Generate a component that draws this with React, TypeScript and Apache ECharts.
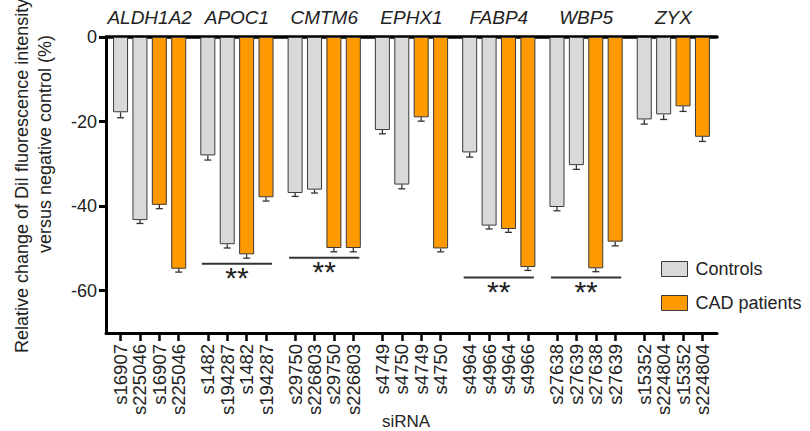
import React, { useEffect, useRef } from "react";
import * as echarts from "echarts";

const genes = ["ALDH1A2", "APOC1", "CMTM6", "EPHX1", "FABP4", "WBP5", "ZYX"];
const sirnaA = ["s16907", "s1482", "s29750", "s4749", "s4964", "s27638", "s15352"];
const sirnaB = ["s225046", "s194287", "s226803", "s4750", "s4966", "s27639", "s224804"];
// per gene: [siRNA A, siRNA B]
const controlValues = [-17.8, -43.3, -28.0, -49.0, -36.9, -36.1, -22.0, -34.9, -27.3, -44.6, -40.2, -30.3, -19.5, -18.3];
const controlErr = [1.3, 0.8, 1.1, 0.9, 0.8, 0.8, 0.9, 1.0, 1.1, 0.8, 0.9, 1.0, 1.1, 1.2];
const cadValues = [-39.7, -54.8, -51.4, -37.9, -49.9, -49.9, -19.0, -50.0, -45.4, -54.4, -54.7, -48.4, -16.4, -23.6];
const cadErr = [0.9, 0.8, 0.9, 0.9, 0.9, 0.9, 0.9, 0.8, 0.8, 0.8, 0.8, 1.0, 1.2, 1.1];
const yTicks = [0, -20, -40, -60];
// significance brackets: [gene index, level]
const sigGenes = [1, 2, 4, 5];
const sigLevels = [-53.6, -52.2, -56.9, -56.9];
const sigText = "**";

const SLOTS = 63;
const barIndex = (g: number, i: number) => 1 + g * 9 + 2 * i;

export default function App() {
  const ref = useRef<HTMLDivElement>(null);
  useEffect(() => {
    if (!ref.current) return;
    const chart = echarts.init(ref.current, null, { renderer: "svg" });

    const bottomCats: string[] = new Array(SLOTS).fill("");
    const topCats: string[] = new Array(SLOTS).fill("");
    const ctrl: any[] = new Array(SLOTS).fill("-");
    const cad: any[] = new Array(SLOTS).fill("-");
    const errData: number[][] = [];
    const barPos = new Set<number>();
    genes.forEach((gname, g) => {
      topCats[4 + g * 9] = gname;
      const ids = [sirnaA[g], sirnaB[g], sirnaA[g], sirnaB[g]];
      ids.forEach((id, i) => {
        bottomCats[barIndex(g, i)] = id;
        barPos.add(barIndex(g, i));
      });
      for (let j = 0; j < 2; j++) {
        const k1 = barIndex(g, j);
        ctrl[k1] = controlValues[g * 2 + j];
        errData.push([k1, controlValues[g * 2 + j], controlErr[g * 2 + j]]);
        const k2 = barIndex(g, 2 + j);
        cad[k2] = cadValues[g * 2 + j];
        errData.push([k2, cadValues[g * 2 + j], cadErr[g * 2 + j]]);
      }
    });
    const sigData = sigGenes.map((g, n) => [barIndex(g, 0), barIndex(g, 3), sigLevels[n]]);

    const font = "'Liberation Sans', Arial, sans-serif";
    const ctrlStyle = { color: "#d9d9d9", borderColor: "#3a3a3a", borderWidth: 1 };
    const cadStyle = { color: "#ff9900", borderColor: "#3a3a3a", borderWidth: 1 };

    chart.setOption({
      animation: false,
      textStyle: { fontFamily: font },
      grid: { left: 106, top: 37, right: 93, bottom: 98, containLabel: false },
      legend: {
        orient: "vertical",
        left: 656,
        top: 255,
        itemWidth: 26,
        itemHeight: 15,
        itemGap: 16,
        icon: "rect",
        textStyle: { fontSize: 18, color: "#222", fontFamily: font, padding: [0, 0, 0, 3] },
        data: [
          { name: "Controls", itemStyle: ctrlStyle },
          { name: "CAD patients", itemStyle: cadStyle },
        ],
      },
      xAxis: [
        {
          type: "category",
          position: "bottom",
          data: bottomCats,
          axisLine: { show: true, onZero: false, lineStyle: { color: "#000", width: 3 } },
          axisTick: {
            show: true,
            alignWithLabel: true,
            length: 8,
            lineStyle: { color: "#000", width: 2.5 },
            interval: (idx: number) => barPos.has(idx),
          },
          axisLabel: {
            rotate: 90,
            margin: 11,
            fontSize: 18.5,
            color: "#222",
            fontFamily: font,
            interval: (idx: number) => barPos.has(idx),
          },
        },
        {
          type: "category",
          position: "top",
          data: topCats,
          axisLine: { show: true, onZero: false, lineStyle: { color: "#000", width: 3.5 } },
          axisTick: { show: false },
          axisLabel: {
            margin: 10,
            fontSize: 19,
            fontStyle: "italic",
            color: "#222",
            fontFamily: font,
            interval: (idx: number) => topCats[idx] !== "",
          },
        },
      ],
      yAxis: {
        type: "value",
        min: -70,
        max: 0,
        axisLine: { show: true, lineStyle: { color: "#000", width: 3 } },
        splitLine: { show: false },
        axisTick: { show: true, length: 7, lineStyle: { color: "#000", width: 3 }, customValues: yTicks },
        axisLabel: { fontSize: 18, color: "#222", margin: 9, fontFamily: font, customValues: yTicks },
      },
      graphic: [
        {
          type: "text",
          x: 22,
          y: 353,
          rotation: Math.PI / 2,
          style: {
            text: "Relative change of DiI fluorescence intensity",
            fontSize: 18,
            fontFamily: font,
            fill: "#222",
            align: "left",
            verticalAlign: "middle",
          },
        },
        {
          type: "text",
          x: 45,
          y: 253,
          rotation: Math.PI / 2,
          style: {
            text: "versus negative control (%)",
            fontSize: 18,
            fontFamily: font,
            fill: "#222",
            align: "left",
            verticalAlign: "middle",
          },
        },
        {
          type: "text",
          x: 406,
          y: 421,
          style: { text: "siRNA", fontSize: 17, fontFamily: font, fill: "#222", align: "center", verticalAlign: "middle" },
        },
      ],
      series: [
        { name: "Controls", type: "bar", data: ctrl, barWidth: 15, barGap: "-100%", itemStyle: ctrlStyle },
        { name: "CAD patients", type: "bar", data: cad, barWidth: 15, barGap: "-100%", itemStyle: cadStyle },
        {
          type: "custom",
          name: "err",
          data: errData,
          encode: { x: 0, y: 1 },
          z: 5,
          renderItem: (params: any, api: any) => {
            const k = api.value(0);
            const v = api.value(1);
            const e = api.value(2);
            const p0 = api.coord([k, v]);
            const p1 = api.coord([k, v - e]);
            const st = { stroke: "#333", lineWidth: 1.3 };
            return {
              type: "group",
              children: [
                { type: "line", shape: { x1: p0[0], y1: p0[1], x2: p1[0], y2: p1[1] }, style: st },
                { type: "line", shape: { x1: p1[0] - 3.5, y1: p1[1], x2: p1[0] + 3.5, y2: p1[1] }, style: st },
              ],
            };
          },
        },
        {
          type: "custom",
          name: "sig",
          data: sigData,
          encode: { x: [0, 1], y: 2 },
          z: 5,
          renderItem: (params: any, api: any) => {
            const a = api.coord([api.value(0), api.value(2)]);
            const b = api.coord([api.value(1), api.value(2)]);
            return {
              type: "group",
              children: [
                {
                  type: "line",
                  shape: { x1: a[0] - 6, y1: a[1], x2: b[0] + 6, y2: b[1] },
                  style: { stroke: "#333", lineWidth: 2 },
                },
                {
                  type: "text",
                  style: {
                    text: sigText,
                    x: (a[0] + b[0]) / 2,
                    y: a[1] - 1,
                    align: "center",
                    verticalAlign: "top",
                    fontSize: 30,
                    fontFamily: font,
                    fill: "#222",
                  },
                },
              ],
            };
          },
        },
      ],
    });
    return () => chart.dispose();
  }, []);
  return <div ref={ref} style={{ position: "absolute", left: 0, top: 0, width: 810, height: 431 }} />;
}
